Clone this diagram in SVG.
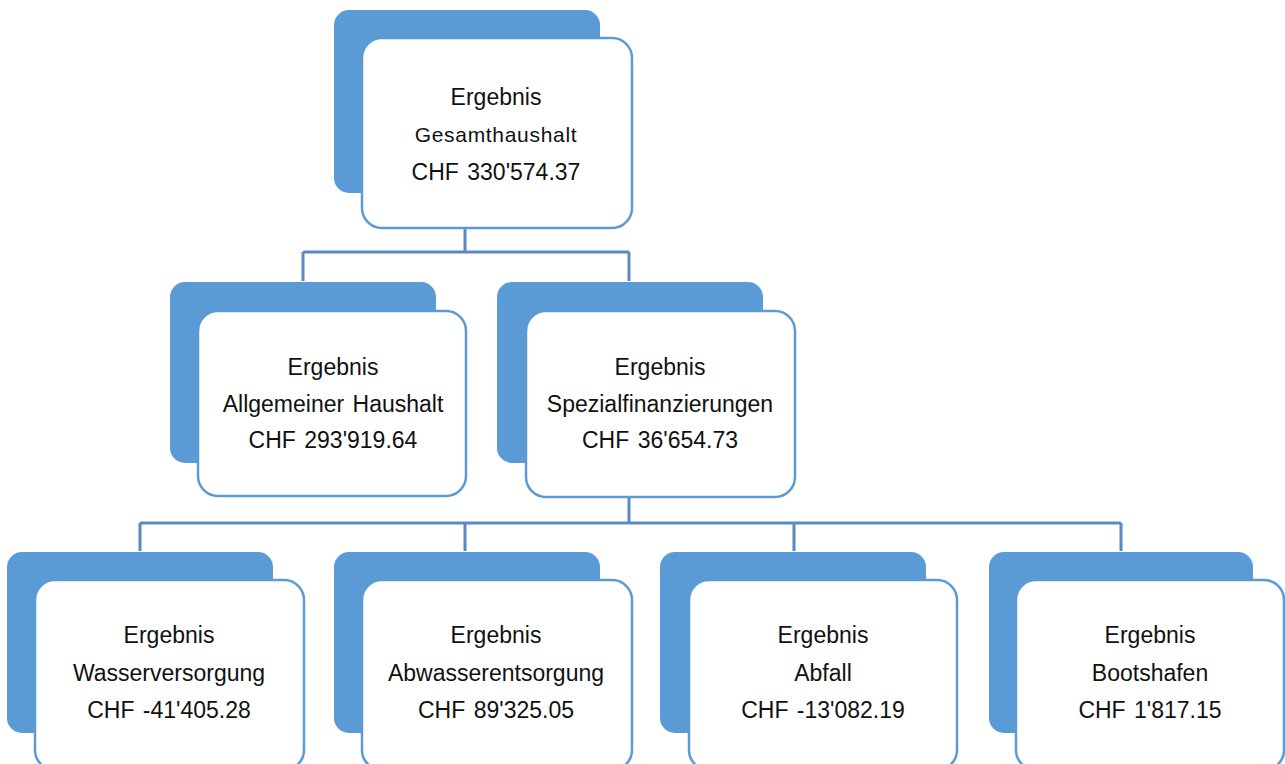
<svg xmlns="http://www.w3.org/2000/svg" width="1285" height="764" viewBox="0 0 1285 764">
<style>
.back{fill:#5B9BD5;}
.front{fill:#ffffff;stroke:#5B9BD5;stroke-width:2.5;}
.conn{fill:none;stroke:#5A8AC4;stroke-width:3;}
text{font-family:"Liberation Sans",Arial,sans-serif;font-size:23px;fill:#111;text-anchor:middle;word-spacing:2px;}
.small{font-size:21px;letter-spacing:0.7px;}
</style>
<rect width="1285" height="764" fill="#ffffff"/>
<g id="connectors">
<path class="conn" d="M465,228 V252 M303,252 H629 M303,252 V281 M629,252 V281"/>
<path class="conn" d="M629,497 V523 M140,523 H1121 M140,523 V551 M465,523 V551 M794,523 V551 M1121,523 V551"/>
</g>
<g id="n0">
<rect class="back" x="334" y="10" width="266" height="183" rx="15"/>
<rect class="front" x="362" y="38" width="270" height="190" rx="20"/>
<text x="496" y="105">Ergebnis</text>
<text class="small" x="496" y="142">Gesamthaushalt</text>
<text x="496" y="180">CHF 330'574.37</text>
</g>
<g id="n1">
<rect class="back" x="170" y="282" width="266" height="181" rx="15"/>
<rect class="front" x="198" y="311" width="268" height="185" rx="20"/>
<text x="333" y="375">Ergebnis</text>
<text x="333" y="412">Allgemeiner Haushalt</text>
<text x="333" y="448">CHF 293'919.64</text>
</g>
<g id="n2">
<rect class="back" x="497" y="282" width="266" height="181" rx="15"/>
<rect class="front" x="526" y="311" width="269" height="186" rx="20"/>
<text x="660" y="375">Ergebnis</text>
<text x="660" y="412">Spezialfinanzierungen</text>
<text x="660" y="448">CHF 36'654.73</text>
</g>
<g id="n3">
<rect class="back" x="7" y="552" width="266" height="181" rx="15"/>
<rect class="front" x="35" y="580" width="269" height="190" rx="20"/>
<text x="169" y="643">Ergebnis</text>
<text x="169" y="681">Wasserversorgung</text>
<text x="169" y="718">CHF -41'405.28</text>
</g>
<g id="n4">
<rect class="back" x="334" y="552" width="266" height="181" rx="15"/>
<rect class="front" x="362" y="580" width="270" height="190" rx="20"/>
<text x="496" y="643">Ergebnis</text>
<text x="496" y="681">Abwasserentsorgung</text>
<text x="496" y="718">CHF 89'325.05</text>
</g>
<g id="n5">
<rect class="back" x="660" y="552" width="266" height="181" rx="15"/>
<rect class="front" x="689" y="580" width="268" height="190" rx="20"/>
<text x="823" y="643">Ergebnis</text>
<text x="823" y="681">Abfall</text>
<text x="823" y="718">CHF -13'082.19</text>
</g>
<g id="n6">
<rect class="back" x="989" y="552" width="264" height="181" rx="15"/>
<rect class="front" x="1016" y="580" width="268" height="190" rx="20"/>
<text x="1150" y="643">Ergebnis</text>
<text x="1150" y="681">Bootshafen</text>
<text x="1150" y="718">CHF 1'817.15</text>
</g>
</svg>
